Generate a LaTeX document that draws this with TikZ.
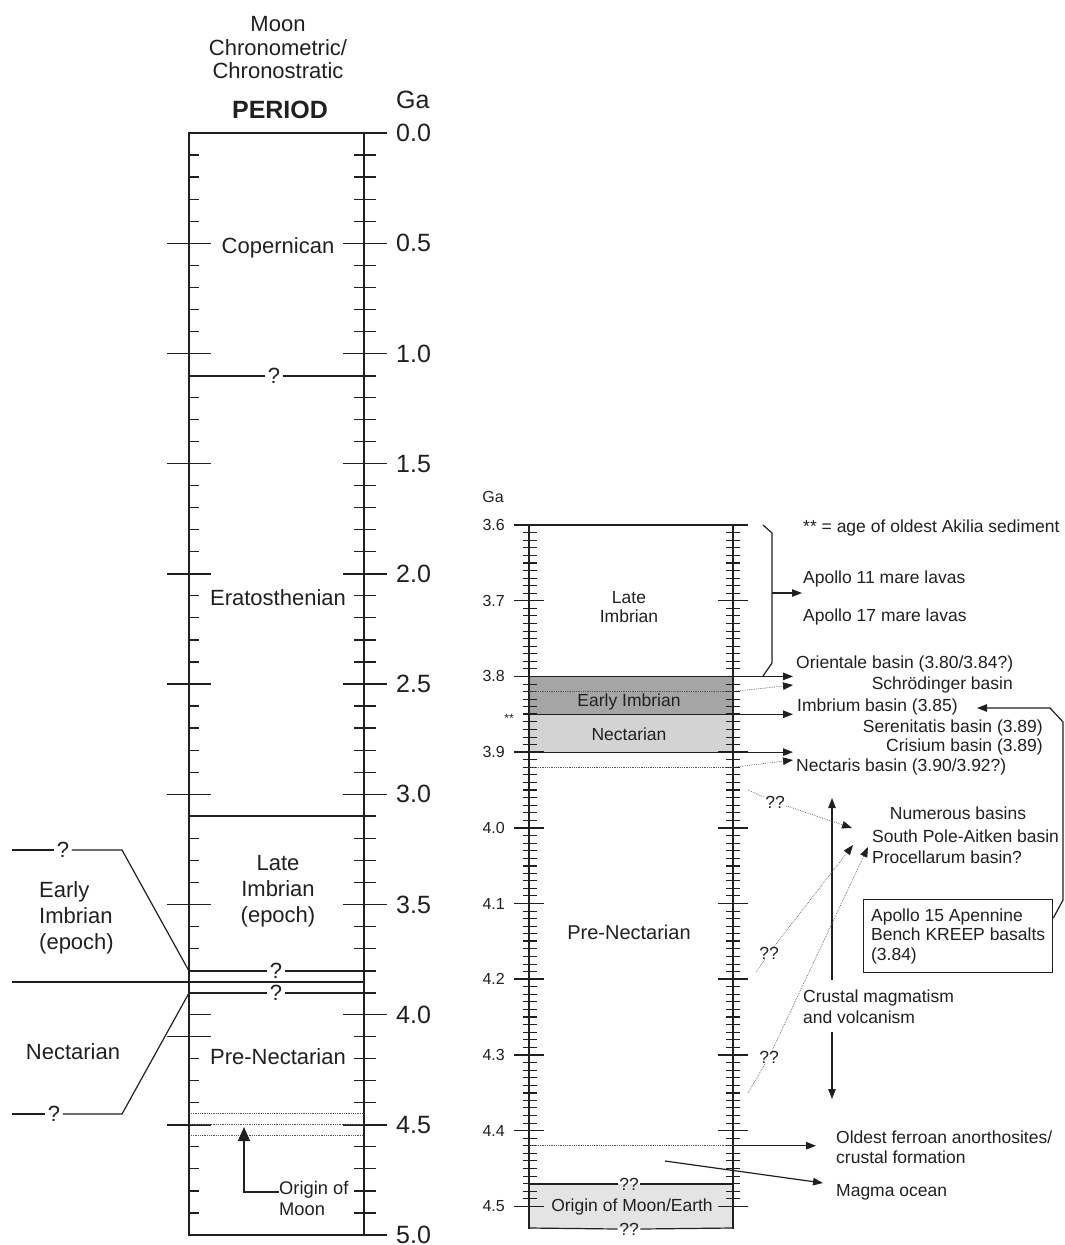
\documentclass[tikz,border=0pt]{standalone}
\usepackage{fontspec}
\setmainfont{Liberation Sans}
\usetikzlibrary{arrows.meta,calc}
\definecolor{ink}{HTML}{231F20}
\definecolor{darkband}{HTML}{A5A5A5}
\definecolor{midband}{HTML}{D3D3D3}
\definecolor{lightband}{HTML}{E4E4E4}
\begin{document}
\begin{tikzpicture}[x=1pt,y=-1pt,
  every node/.style={inner sep=0pt, text=ink},
  bigtxt/.style={font=\fontsize{22}{26}\selectfont},
  numtxt/.style={font=\fontsize{25}{30}\selectfont},
  rtxt/.style={font=\fontsize{17.5}{20}\selectfont},
  rnum/.style={font=\fontsize{16}{20}\selectfont},
  qmark/.style={bigtxt, inner xsep=2.5pt},
  rq/.style={rtxt, inner xsep=1.5pt},
  lline/.style={draw=ink, line width=1.2pt},
  dotline/.style={draw=ink!75, line width=0.7pt, dash pattern=on 0.7pt off 1.1pt},
  tri/.style={-{Triangle[length=10pt,width=7.5pt,color=ink]}},
]
\useasboundingbox (0,0) rectangle (1065,1245);

% ================= LEFT COLUMN =================
\node[bigtxt] (moon) at (278,24) {Moon};
\node[bigtxt] (chm) at (278,48) {Chronometric/};
\node[bigtxt] (chs) at (278,71) {Chronostratic};
\node[font=\fontsize{25}{30}\selectfont\bfseries] (period) at (280,110) {PERIOD};
\node[numtxt, anchor=west] (gaL) at (396,100) {Ga};

% ticks
\foreach \i in {1,...,49}{
  \pgfmathsetmacro\yy{133+22.04*\i}
  \pgfmathtruncatemacro\m{mod(\i,5)}
  \ifnum\m=0
    \ifnum\i=40
      \draw[ink, line width=1.4pt] (189,\yy) -- (211,\yy);
    \else
      \draw[ink, line width=1.4pt] (167,\yy) -- (211,\yy);
    \fi
    \draw[ink, line width=1.4pt] (343,\yy) -- (387,\yy);
  \else
    \ifnum\i=41
      \draw[ink, line width=1.4pt] (167,\yy) -- (211,\yy);
    \else
      \draw[ink, line width=1.2pt] (189,\yy) -- (199,\yy);
    \fi
    \draw[ink, line width=1.2pt] (354,\yy) -- (376,\yy);
  \fi
}
\foreach \v [count=\k from 0] in {0.0,0.5,1.0,1.5,2.0,2.5,3.0,3.5,4.0,4.5,5.0}{
  \node[numtxt, anchor=west] (lab\k) at (396,{133+110.2*\k}) {\v};
}

% frame
\draw[ink, line width=2.2pt] (189,132) -- (189,1236);
\draw[ink, line width=2.6pt] (364,132) -- (364,1236);
\draw[ink, line width=2.2pt] (188,133) -- (387,133);
\draw[ink, line width=2.2pt] (188,1235) -- (387,1235);

% boundaries
\node[qmark] (q11) at (274,376) {?};
\draw[lline] (189,376) -- (q11.west);
\draw[lline] (q11.east) -- (376,376);
\draw[lline] (189,816) -- (376,816);
\node[qmark] (q38) at (276,971) {?};
\draw[lline] (189,971) -- (q38.west);
\draw[lline] (q38.east) -- (376,971);
\draw[lline] (12,982) -- (364,982);
\node[qmark] (q39) at (276,993) {?};
\draw[lline] (189,993) -- (q39.west);
\draw[lline] (q39.east) -- (376,993);

% left brackets
\node[qmark] (qa) at (63,850) {?};
\draw[lline] (12,850) -- (qa.west);
\draw[lline] (qa.east) -- (122,850) -- (189,971);
\node[qmark] (qb) at (54,1114) {?};
\draw[lline] (12,1114) -- (qb.west);
\draw[lline] (qb.east) -- (122,1114) -- (189,993);

% labels
\node[bigtxt] (cop) at (278,248) {Copernican};
\node[bigtxt] (era) at (278,598) {Eratosthenian};
\node[bigtxt, align=center] (limbL) at (278,891) {Late\\Imbrian\\(epoch)};
\node[bigtxt, align=left, anchor=west] (eimbL) at (39,918) {Early\\Imbrian\\(epoch)};
\node[bigtxt] (nectL) at (73,1052) {Nectarian};
\node[bigtxt] (prenL) at (278,1057) {Pre-Nectarian};

% dotted lines near 4.5
\foreach \t in {4.45,4.5,4.55}{
  \draw[dotline] (191,{133+220.4*\t}) -- (363,{133+220.4*\t});
}
\node[font=\fontsize{18.3}{21}\selectfont, align=left, anchor=west] (origL) at (279,1198) {Origin of\\Moon};
\coordinate (oa) at (244,1127);
\draw[ink, line width=1.3pt, -{Triangle[length=14pt,width=12pt]}] ([yshift=6pt]origL.west) -- (244,1192) -- (oa);

% ================= RIGHT COLUMN =================
\fill[darkband] (529,676.4) rectangle (733,714.25);
\fill[midband] (529,714.25) rectangle (733,752.1);
\fill[lightband] (529,1184) rectangle (733,1228);

\foreach \i in {1,...,90}{
  \pgfmathsetmacro\yy{525+7.57*\i}
  \pgfmathtruncatemacro\m{mod(\i,10)}
  \pgfmathtruncatemacro\n{mod(\i,5)}
  \ifnum\m=0
    \draw[ink, line width=1.5pt] (514,\yy) -- (544,\yy) (718,\yy) -- (748,\yy);
  \else\ifnum\n=0
    \draw[ink, line width=1.8pt] (523,\yy) -- (537,\yy) (726,\yy) -- (740,\yy);
  \else
    \draw[ink, line width=0.9pt] (523,\yy) -- (537,\yy) (726,\yy) -- (740,\yy);
  \fi\fi
}
\foreach \v [count=\k from 0] in {3.6,3.7,3.8,3.9,4.0,4.1,4.2,4.3,4.4,4.5}{
  \node[rnum, anchor=east] (r\k) at (505,{525+75.7*\k}) {\v};
}
\node[rnum] (gaR) at (493,497) {Ga};
\node[font=\fontsize{12}{14}\selectfont] (stars) at (509,718) {**};

\draw[ink, line width=1.8pt] (529,525) -- (529,1229);
\draw[ink, line width=1.8pt] (733,525) -- (733,1229);
\draw[ink, line width=1.3pt] (514,525) -- (748,525);

\node[rq] (qtop) at (629,1184) {??};
\draw[lline] (529,1184) -- (qtop.west);
\draw[lline] (qtop.east) -- (733,1184);
\node[rq] (qbot) at (629,1229) {??};
\draw[lline] (529,1228) -- (qbot.west);
\draw[lline] (qbot.east) -- (733,1228);

\node[font=\fontsize{17.5}{19}\selectfont, align=center] (limbR) at (629,607) {Late\\Imbrian};
\node[rtxt] (eimbR) at (629,702) {Early Imbrian};
\node[rtxt] (nectR) at (629,734) {Nectarian};
\node[font=\fontsize{20}{24}\selectfont] (prenR) at (629,932) {Pre-Nectarian};
\node[rtxt] (origR) at (632,1207) {Origin of Moon/Earth};

% horizontal arrows
\draw[lline, tri] (529,676.4) -- (793,676.4);
\draw[dotline] (529,691.5) -- (733,691.5);
\draw[dotline, tri] (733,691.5) -- (793,685);
\draw[lline, tri] (529,714.25) -- (793,714.25);
\draw[lline, tri] (529,752.1) -- (793,752.1);
\draw[dotline] (529,767.2) -- (733,767.2);
\draw[dotline, tri] (733,767.2) -- (793,760);
\draw[dotline] (529,1145.7) -- (733,1145.7);
\draw[lline, tri] (733,1145.7) -- (816,1145.7);
\draw[lline, tri] (665,1161) -- (823,1183);

% bracket
\draw[lline] (763,525) -- (772,533) -- (772,663) -- (763,676);
\draw[lline, tri] (772,593) -- (802,593);

% right labels
\node[rtxt, anchor=west] (akilia) at (803,528) {** = age of oldest Akilia sediment};
\node[rtxt, anchor=west] (ap11) at (803,579) {Apollo 11 mare lavas};
\node[rtxt, anchor=west] (ap17) at (803,617) {Apollo 17 mare lavas};
\node[rtxt, anchor=west] (ori) at (796,664) {Orientale basin (3.80/3.84?)};
\node[rtxt, anchor=east] (sch) at (1013,685) {Schrödinger basin};
\node[rtxt, anchor=west] (imb) at (797,707) {Imbrium basin (3.85)};
\node[rtxt, anchor=east] (ser) at (1043,728) {Serenitatis basin (3.89)};
\node[rtxt, anchor=east] (cri) at (1043,747) {Crisium basin (3.89)};
\node[rtxt, anchor=west] (nec) at (796,767) {Nectaris basin (3.90/3.92?)};
\node[rtxt] (num) at (958,813) {Numerous basins};
\node[rtxt, anchor=west] (spa) at (872,836) {South Pole-Aitken basin};
\node[rtxt, anchor=west] (pro) at (872,857) {Procellarum basin?};
\node[font=\fontsize{17.5}{21}\selectfont, align=left, anchor=west] (crust) at (803,1007) {Crustal magmatism\\and volcanism};
\node[font=\fontsize{17.5}{20}\selectfont, align=left, anchor=west] (ofa) at (836,1147) {Oldest ferroan anorthosites/\\crustal formation};
\node[rtxt, anchor=west] (mag) at (836,1192) {Magma ocean};

\node[draw=ink, line width=1.3pt, minimum width=189pt, minimum height=73pt,
      align=left, font=\fontsize{17.5}{19.5}\selectfont, anchor=north west] (box) at (863,899)
      {Apollo 15 Apennine\\Bench KREEP basalts\\(3.84)};
\coordinate (imbtip) at (977,708);
\draw[lline, tri] ([yshift=-19pt]box.north east) -- (1063,900) -- (1063,722) -- (1050,708) -- (imbtip);

% crustal magmatism arrows
\draw[ink, line width=1.2pt, tri] (832,980) -- (832,798);
\draw[ink, line width=1.2pt, tri] (832,1032) -- (832,1099);

% dotted ?? arrows
\node[rq] (qq1) at (775,802) {??};
\node[rq] (qq2) at (769,953) {??};
\node[rq] (qq3) at (769,1057) {??};
\coordinate (s1) at (748,790);
\coordinate (t1) at (852,828);
\coordinate (s2) at (756,972);
\coordinate (t2) at (853,845);
\coordinate (s3) at (748,1093);
\coordinate (t3) at (868,847);
\draw[dotline] (s1) -- (qq1);
\draw[dotline, tri] (qq1) -- (t1);
\draw[dotline] (s2) -- (qq2);
\draw[dotline, tri] (qq2) -- (t2);
\draw[dotline] (s3) -- (qq3);
\draw[dotline, tri] (qq3) -- (t3);
\end{tikzpicture}
\end{document}
